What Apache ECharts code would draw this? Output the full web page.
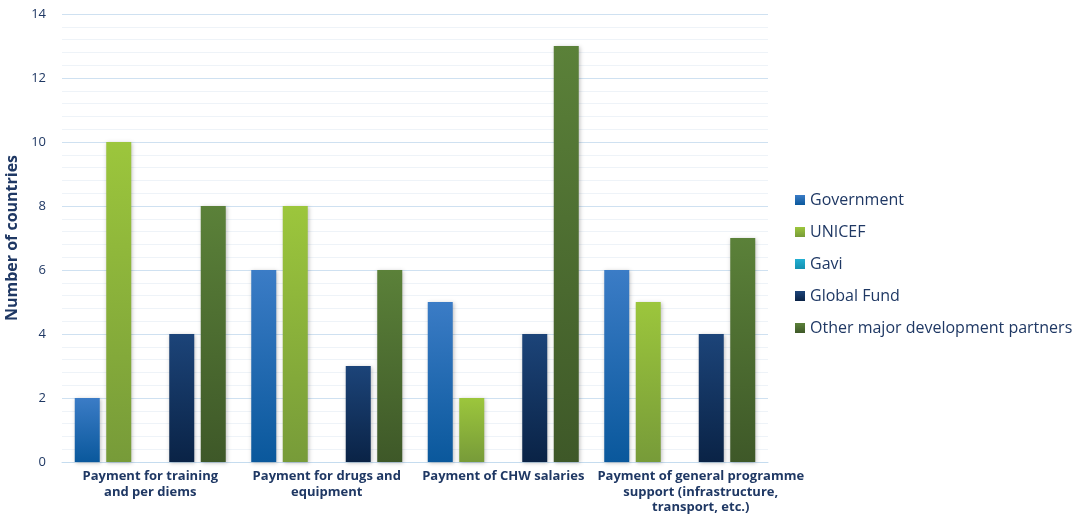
<!DOCTYPE html>
<html>
<head>
<meta charset="utf-8">
<script src="https://cdn.jsdelivr.net/npm/echarts@6/dist/echarts.min.js"></script>
<style>
    html, body { margin: 0; padding: 0; background: #ffffff; }
    #chart { width: 1081px; height: 515px; }
</style>
</head>
<body>
<div id="chart"></div>
<script>
const categories = [
    "Payment for training\nand per diems",
    "Payment for drugs and\nequipment",
    "Payment of CHW salaries",
    "Payment of general programme\nsupport (infrastructure,\ntransport, etc.)",
];
const government = [2, 6, 5, 6];
const unicef = [10, 8, 2, 5];
const gavi = [0, 0, 0, 0];
const globalFund = [4, 3, 4, 4];
const otherPartners = [8, 6, 13, 7];

const TEXT_COLOR = "#1f3864";
const FONT = "'Open Sans', Lato, sans-serif";

function gradient(top, bottom) {
    return new echarts.graphic.LinearGradient(0, 0, 0, 1, [
        { offset: 0, color: top },
        { offset: 1, color: bottom },
    ]);
}

function barSeries(name, data, legendColor, top, bottom) {
    return {
        name,
        type: "bar",
        data,
        barWidth: 25,
        barGap: "26%",
        color: legendColor,
        itemStyle: {
            color: gradient(top, bottom),
            shadowBlur: 4,
            shadowColor: "rgba(0, 0, 0, 0.25)",
            shadowOffsetX: 1,
            shadowOffsetY: 1,
        },
    };
}

// the last label sits a little right of its band in the original
function categoryData(names) {
    return names.map((name, i) => {
        if (i !== names.length - 1) return name;
        return { value: name, textStyle: { padding: [0, 0, 0, 42] } };
    });
}

const chart = echarts.init(document.getElementById("chart"));

chart.setOption({
    backgroundColor: "#ffffff",
    animation: false,
    textStyle: { fontFamily: FONT },
    grid: { left: 62, right: 313, top: 14, bottom: 53, outerBoundsMode: "none" },
    legend: {
        orient: "vertical",
        left: 790,
        top: 187,
        itemWidth: 10,
        itemHeight: 10,
        itemGap: 16,
        icon: "rect",
        textStyle: { color: TEXT_COLOR, fontSize: 16, fontFamily: FONT },
    },
    xAxis: {
        type: "category",
        data: categoryData(categories),
        axisTick: { show: false },
        axisLine: { lineStyle: { color: "#c5dcef", width: 1 } },
        axisLabel: {
            color: TEXT_COLOR,
            fontSize: 13,
            fontWeight: "bold",
            lineHeight: 15.5,
            margin: 7,
            interval: 0,
        },
    },
    yAxis: {
        type: "value",
        min: 0,
        max: 14,
        interval: 2,
        name: "Number of countries",
        nameLocation: "middle",
        nameGap: 33,
        nameTextStyle: { color: TEXT_COLOR, fontSize: 16, fontWeight: "bold" },
        axisLine: { show: false },
        axisTick: { show: false },
        axisLabel: { color: TEXT_COLOR, fontSize: 13, margin: 16 },
        splitLine: { lineStyle: { color: "#cfe1f1", width: 1 } },
        minorTick: { show: false, splitNumber: 5 },
        minorSplitLine: { show: true, lineStyle: { color: "#eef3f8", width: 1 } },
    },
    series: [
        barSeries("Government", government, "#2e6db8", "#3b7cc6", "#0a589c"),
        barSeries("UNICEF", unicef, "#8fbc3b", "#9cc63c", "#779b39"),
        barSeries("Gavi", gavi, "#1ba5c8", "#23b0d3", "#1490b0"),
        barSeries("Global Fund", globalFund, "#13335f", "#1c4479", "#0a2346"),
        barSeries("Other major development partners", otherPartners, "#4d6f30", "#5b8139", "#3e5828"),
    ],
});
</script>
</body>
</html>
